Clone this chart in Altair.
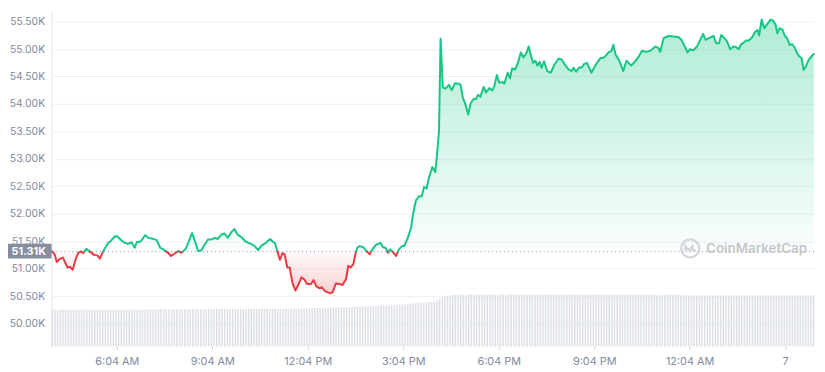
import altair as alt
import pandas as pd
import numpy as np

# ---- data ----
# hours since 4:00 AM
hours = [
    0.02, 0.11, 0.18, 0.26, 0.37, 0.52, 0.60, 0.68, 0.78, 0.86, 0.94, 1.01, 1.11, 1.22, 1.35, 1.46, 1.53,
    1.66, 1.80, 1.87, 2.01, 2.08, 2.18, 2.29, 2.41, 2.53, 2.63, 2.70, 2.81, 2.96, 3.06, 3.22, 3.32, 3.43,
    3.53, 3.67, 3.77, 3.87, 4.00, 4.10, 4.23, 4.31, 4.43, 4.52, 4.62, 4.72, 4.83, 4.93, 5.03, 5.14, 5.24,
    5.35, 5.45, 5.55, 5.66, 5.76, 5.86, 5.97, 6.12, 6.28, 6.38, 6.51, 6.61, 6.75, 6.88, 6.99, 7.03, 7.11,
    7.19, 7.27, 7.34, 7.42, 7.50, 7.58, 7.68, 7.78, 7.87, 7.96, 8.04, 8.17, 8.25, 8.33, 8.44, 8.51, 8.61,
    8.77, 8.85, 8.95, 9.06, 9.16, 9.27, 9.34, 9.41, 9.50, 9.55, 9.62, 9.70, 9.81, 9.91, 10.01, 10.10,
    10.20, 10.35, 10.43, 10.51, 10.59, 10.66, 10.74, 10.84, 10.93, 11.03, 11.10, 11.21, 11.31, 11.38,
    11.47, 11.57, 11.65, 11.72, 11.80, 11.88, 11.98, 12.07, 12.10, 12.19, 12.24, 12.31, 12.40, 12.50,
    12.59, 12.69, 12.81, 12.87, 12.94, 13.00, 13.11, 13.18, 13.28, 13.35, 13.42, 13.49, 13.59, 13.67,
    13.77, 13.87, 13.93, 14.01, 14.08, 14.18, 14.24, 14.35, 14.42, 14.49, 14.58, 14.66, 14.76, 14.84,
    14.94, 15.01, 15.07, 15.15, 15.22, 15.28, 15.35, 15.41, 15.49, 15.59, 15.70, 15.82, 15.95, 16.05,
    16.13, 16.26, 16.36, 16.42, 16.50, 16.60, 16.67, 16.75, 16.84, 16.98, 17.12, 17.27, 17.38, 17.46,
    17.53, 17.60, 17.67, 17.74, 17.84, 17.98, 18.08, 18.23, 18.36, 18.47, 18.57, 18.71, 18.83, 18.99,
    19.09, 19.14, 19.25, 19.40, 19.56, 19.71, 19.81, 19.92, 20.00, 20.07, 20.18, 20.30, 20.40, 20.49,
    20.57, 20.67, 20.82, 20.90, 20.99, 21.06, 21.13, 21.24, 21.34, 21.44, 21.52, 21.61, 21.68, 21.75,
    21.84, 21.92, 22.02, 22.13, 22.20, 22.25, 22.33, 22.41, 22.51, 22.61, 22.69, 22.77, 22.82, 22.89,
    22.98, 23.06, 23.13, 23.21, 23.29, 23.37, 23.44, 23.51, 23.58, 23.65, 23.72, 23.81, 23.91, 23.97,
]
# price in thousands of USD
price_k = [
    51.32, 51.26, 51.12, 51.17, 51.20, 51.02, 51.03, 50.98, 51.18, 51.29, 51.31, 51.28, 51.36, 51.31, 51.25, 51.24, 51.18,
    51.34, 51.47, 51.50, 51.59, 51.59, 51.53, 51.48, 51.45, 51.48, 51.38, 51.49, 51.49, 51.61, 51.56, 51.54, 51.52, 51.38,
    51.35, 51.29, 51.23, 51.27, 51.32, 51.29, 51.36, 51.47, 51.65, 51.50, 51.32, 51.33, 51.44, 51.53, 51.53, 51.56, 51.54,
    51.62, 51.64, 51.56, 51.66, 51.72, 51.62, 51.58, 51.49, 51.45, 51.42, 51.34, 51.42, 51.47, 51.54, 51.48, 51.47, 51.32,
    51.16, 51.28, 51.26, 51.02, 51.02, 50.75, 50.60, 50.72, 50.84, 50.80, 50.72, 50.72, 50.79, 50.68, 50.64, 50.66, 50.59,
    50.55, 50.57, 50.73, 50.72, 50.70, 50.81, 51.05, 51.02, 51.08, 51.23, 51.38, 51.41, 51.39, 51.32, 51.26, 51.35,
    51.43, 51.47, 51.39, 51.38, 51.29, 51.35, 51.30, 51.23, 51.35, 51.41, 51.41, 51.56, 51.74, 52.01,
    52.25, 52.32, 52.32, 52.49, 52.46, 52.67, 52.85, 52.76, 52.90, 53.50, 55.19, 54.30, 54.28, 54.35,
    54.25, 54.38, 54.37, 54.35, 54.11, 54.03, 53.81, 54.01, 54.09, 54.09, 54.17, 54.13, 54.31, 54.21,
    54.29, 54.25, 54.33, 54.53, 54.39, 54.40, 54.37, 54.57, 54.47, 54.65, 54.63, 54.73, 54.94, 54.85,
    54.93, 55.05, 54.90, 54.75, 54.79, 54.70, 54.77, 54.66, 54.78, 54.60, 54.57, 54.72, 54.83, 54.81,
    54.73, 54.63, 54.60, 54.66, 54.59, 54.67, 54.66, 54.73, 54.75, 54.57, 54.72, 54.84, 54.85, 54.90,
    54.95, 54.96, 55.08, 54.90, 54.81, 54.60, 54.79, 54.70, 54.78, 54.87, 54.97, 54.95, 54.97, 55.05,
    55.02, 54.95, 55.20, 55.24, 55.23, 55.22, 55.17, 55.04, 54.94, 55.00, 54.98, 55.05, 55.17, 55.28,
    55.17, 55.20, 55.24, 55.11, 55.11, 55.26, 55.22, 55.14, 55.00, 55.05, 55.04, 55.00, 55.09, 55.11,
    55.16, 55.16, 55.21, 55.32, 55.35, 55.25, 55.54, 55.38, 55.46, 55.54, 55.52, 55.44, 55.29, 55.38,
    55.36, 55.24, 55.20, 55.08, 55.09, 55.03, 54.93, 54.87, 54.84, 54.62, 54.69, 54.81, 54.88, 54.91,
]
BASE = 51.31

# volume bars (arbitrary units), one per 5 minutes
volume = [
    21.6, 21.9, 21.7, 21.8, 22.0, 21.7, 21.8, 21.6, 21.9, 21.8, 21.7, 21.9, 22.0, 21.8, 21.7, 21.8, 21.9, 21.6,
    21.8, 21.9, 21.7, 21.8, 22.0, 21.8, 21.7, 21.9, 21.8, 21.8, 21.7, 21.9, 22.0, 21.8, 21.9, 21.7, 21.8, 21.9,
    22.1, 22.2, 22.0, 22.3, 22.1, 22.2, 22.4, 22.1, 22.2, 22.0, 22.3, 22.2, 22.1, 22.2, 22.3, 22.1, 22.2, 22.4,
    22.2, 22.1, 22.3, 22.2, 22.0, 22.2, 22.3, 22.1, 22.2, 22.2, 22.4, 22.1, 22.3, 22.2, 22.1, 22.3, 22.2, 22.4,
    22.2, 22.1, 22.3, 22.2, 22.4, 22.3, 22.2, 22.5, 22.3, 22.4, 22.3, 22.5, 22.4, 22.3, 22.5, 22.4, 22.6, 22.4,
    22.5, 22.6, 22.5,
    22.6, 22.7, 22.6, 22.8, 22.7, 22.9, 22.8, 22.9, 23.0, 22.9, 23.1, 23.0, 23.2, 23.1, 23.3, 23.2, 23.3, 23.4,
    23.3, 23.5, 23.4, 23.6, 23.5, 23.7, 23.6, 23.8, 23.7, 23.9, 23.8, 24.0, 24.1, 24.0, 24.2, 24.3, 24.2, 24.4,
    24.5, 24.6,
    24.8, 24.9, 25.1, 25.2, 25.4, 25.5, 25.7, 25.8, 25.9, 26.0, 26.2, 26.3, 26.5, 26.6,
    27.4, 28.3, 29.2, 29.8, 30.2, 30.4,
    30.6, 30.7, 30.6, 30.8, 30.7, 30.6, 30.7, 30.9, 30.7, 30.6, 30.8, 30.7, 30.7, 30.6, 30.8, 30.9, 30.7, 30.6,
    30.7, 30.8, 30.6, 30.7, 30.9, 30.8, 30.7, 30.6, 30.7, 30.8, 30.7, 30.9, 30.6, 30.7, 30.8, 30.7, 30.6, 30.7,
    30.8, 30.9, 30.7, 30.6, 30.7, 30.8, 30.7, 30.6, 30.8, 30.7, 30.9, 30.7, 30.6, 30.7, 30.8, 30.7, 30.6, 30.8,
    30.7, 30.9, 30.8, 30.7, 30.6, 30.7, 30.8, 30.7, 30.6, 30.7, 30.9, 30.8, 30.7, 30.6, 30.7, 30.8, 30.7, 30.6,
    30.8, 30.7, 30.6, 30.7, 30.8, 30.6, 30.7, 30.5, 30.6, 30.7, 30.6, 30.5, 30.6, 30.7, 30.5, 30.6,
    30.4, 30.3, 30.2, 30.3, 30.2, 30.1, 30.2, 30.3, 30.2, 30.1, 30.2, 30.3, 30.2, 30.2, 30.1, 30.3, 30.2, 30.1,
    30.2, 30.3, 30.2, 30.1, 30.2, 30.2, 30.3, 30.1, 30.2, 30.2, 30.3, 30.2, 30.1, 30.2, 30.3, 30.2, 30.2, 30.1,
    30.2, 30.3, 30.2, 30.2, 30.1, 30.2, 30.2, 30.3, 30.2, 30.1, 30.2, 30.3, 30.2, 30.2, 30.1, 30.2,
]

x_tick_values = [2.067, 5.067, 8.067, 11.067, 14.067, 17.067, 20.067, 23.067]
x_tick_labels = ["6:04 AM", "9:04 AM", "12:04 PM", "3:04 PM", "6:04 PM", "9:04 PM", "12:04 AM", "7"]
y_tick_values = [50.0, 50.5, 51.0, 51.5, 52.0, 52.5, 53.0, 53.5, 54.0, 54.5, 55.0, 55.5]

GREEN = "#16c784"
RED = "#ea3943"
GRAY = "#808a9d"

# ---- build tables ----
rows = []
seg = 0
prev = None
for t, p in zip(hours, price_k):
    s = "up" if p >= BASE else "down"
    if prev is not None and s != prev[2]:
        t0, p0, s0 = prev
        tc = t0 + (BASE - p0) * (t - t0) / (p - p0)
        rows.append(dict(t=tc, p=BASE, side=s0, seg=seg))
        seg += 1
        rows.append(dict(t=tc, p=BASE, side=s, seg=seg))
    rows.append(dict(t=t, p=p, side=s, seg=seg))
    prev = (t, p, s)
df = pd.DataFrame(rows)
df["base"] = BASE
df["pu"] = df["p"].clip(lower=BASE)
df["pd"] = df["p"].clip(upper=BASE)

vol_df = pd.DataFrame({"t": 0.04 + np.arange(len(volume)) / 12.0, "v": volume})
vol_df = vol_df[vol_df["t"] <= 23.97]

xscale = alt.Scale(domain=[0.016, 23.975], nice=False, zero=False)
yscale = alt.Scale(domain=[49.581, 55.718], nice=False, zero=False)

x_label_expr = "[" + ",".join("'%s'" % s for s in x_tick_labels) + "][round((datum.value-2.067)/3)]"

x_axis = alt.Axis(values=x_tick_values, labelExpr=x_label_expr, grid=False, domain=False,
                  ticks=True, tickSize=3, tickColor="#c9ced6", labelColor=GRAY, labelFontSize=11,
                  labelFont="Inter", labelPadding=6, title=None, labelOverlap=False)
y_axis = alt.Axis(values=y_tick_values, labelExpr="format(datum.value, '.2f') + 'K'", grid=True,
                  gridColor="#eff2f5", domain=True, domainColor="#e3e6ea", ticks=False,
                  labelColor=GRAY, labelFontSize=10.5, labelFont="Inter", labelPadding=7,
                  labelOverlap=False, labelBound=False, title=None)

X = alt.X("t:Q", scale=xscale, axis=x_axis)

def Y(field):
    return alt.Y(field, scale=yscale, axis=y_axis)

vol_layer = alt.Chart(vol_df).mark_rule(color="#dcdfe5", strokeWidth=1.5).encode(
    x=X,
    y=alt.Y("v:Q", scale=alt.Scale(domain=[0, 200], nice=False), axis=None),
    y2=alt.datum(0),
)

base_chart = alt.Chart(df)

green_area = base_chart.mark_area(
    color=alt.Gradient(gradient="linear",
                       stops=[alt.GradientStop(color="rgba(22,199,132,0.34)", offset=0),
                              alt.GradientStop(color="rgba(22,199,132,0.02)", offset=1)],
                       x1=1, x2=1, y1=0, y2=1)
).encode(x=X, y=Y("pu:Q"), y2="base:Q")

red_area = base_chart.mark_area(
    color=alt.Gradient(gradient="linear",
                       stops=[alt.GradientStop(color="rgba(234,57,67,0.02)", offset=0),
                              alt.GradientStop(color="rgba(234,57,67,0.24)", offset=1)],
                       x1=1, x2=1, y1=0, y2=1)
).encode(x=X, y=Y("pd:Q"), y2="base:Q")

baseline = alt.Chart(pd.DataFrame({"b": [BASE]})).mark_rule(
    color="#8a919e", strokeDash=[1, 3], strokeWidth=1
).encode(y=Y("b:Q"))

lines = base_chart.mark_line(strokeWidth=2, strokeJoin="round", strokeCap="round").encode(
    x=X,
    y=Y("p:Q"),
    color=alt.Color("side:N", scale=alt.Scale(domain=["up", "down"], range=[GREEN, RED]), legend=None),
    detail="seg:N",
)

box = alt.Chart(pd.DataFrame({"b": [BASE]})).mark_rect(
    color="#858d9f", yOffset=-8, y2Offset=7, clip=False
).encode(
    x=alt.value(-44), x2=alt.value(0),
    y=Y("b:Q"), y2="b:Q",
)

box_text = alt.Chart(pd.DataFrame({"b": [BASE], "s": ["51.31K"]})).mark_text(
    color="white", fontWeight="bold", fontSize=11, font="Inter", align="center", baseline="middle"
).encode(x=alt.value(-23), y=Y("b:Q"), text="s:N")

wm_text = alt.Chart(pd.DataFrame({"s": ["CoinMarketCap"]})).mark_text(
    color="#c3c7ce", fontWeight=600, fontSize=13.5, font="Inter", align="left", baseline="middle"
).encode(x=alt.value(661), y=alt.value(242), text="s:N")

wm_circle = alt.Chart(pd.DataFrame({"s": ["logo"]})).mark_point(
    shape="circle", size=330, filled=False, stroke="#c3c7ce", strokeWidth=2.4
).encode(x=alt.value(645), y=alt.value(241))

wm_m = alt.Chart(pd.DataFrame({"s": ["logo"]})).mark_point(
    shape="M-0.55,0.3L-0.55,-0.25L-0.12,0.22L0.25,-0.25L0.25,0.12Q0.4,0.3 0.6,0.15",
    size=330, filled=False, stroke="#c3c7ce", strokeWidth=2.2
).encode(x=alt.value(645), y=alt.value(241))

price_layers = alt.layer(green_area, red_area, baseline, lines, box, box_text, wm_circle, wm_m, wm_text)

chart = alt.layer(vol_layer, price_layers).resolve_scale(y="independent").properties(
    width=770, height=340,
    autosize=alt.AutoSizeParams(type="none"),
    padding={"left": 44, "top": 0, "right": 3, "bottom": 24},
    background="white",
).configure_view(stroke=None)

chart.save("out.html", embed_options={"renderer": "svg", "actions": False})
